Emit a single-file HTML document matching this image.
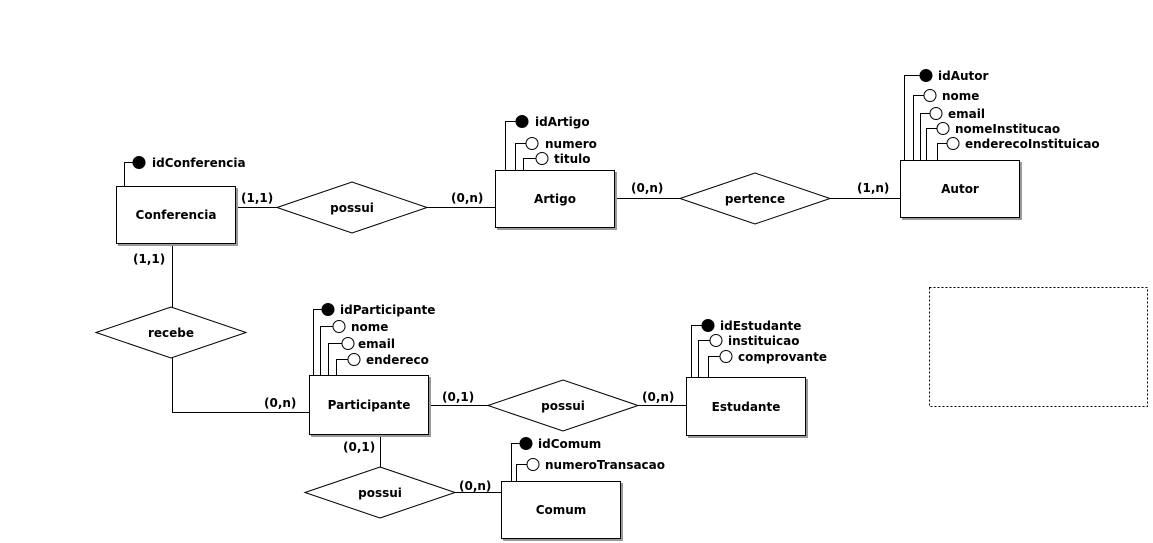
<!DOCTYPE html>
<html><head><meta charset="utf-8"><style>
html,body{margin:0;padding:0;background:#fff;width:1153px;height:543px;overflow:hidden}
text{font-family:"DejaVu Sans","Liberation Sans",sans-serif;font-weight:bold;font-size:12px;fill:#000}
</style></head><body>
<svg width="1153" height="543" xmlns="http://www.w3.org/2000/svg">
<defs>
<g id="x"></g>
</defs>
<g stroke="#000" stroke-width="1" fill="none">
<!-- connectors -->
<path d="M235.5 207.5H277M427 207.5H495"/>
<path d="M614 198.5H680M830 198.5H900"/>
<path d="M172.5 243V307M172.5 357V412.5H309"/>
<path d="M428 405.5H488M638 405.5H686"/>
<path d="M380.5 434V467M455 492.5H501"/>
<!-- attribute lines -->
<path d="M124.5 186V162.5H133"/>
<path d="M505.5 170V121.5H516M515.5 170V143.5H526M523.5 170V158.5H536"/>
<path d="M904.5 160V75.5H920M913.5 160V95.5H924M920.5 160V113.5H930M926.5 160V128.5H937M937.5 160V143.5H947"/>
<path d="M313.5 375V309.5H322M320.5 375V326.5H333M328.5 375V343.5H342M336.5 375V359.5H348"/>
<path d="M691.5 377V325.5H702M698.5 377V340.5H710M708.5 377V356.5H720"/>
<path d="M511.5 481V443.5H520M516.5 481V464.5H527"/>
</g>
<!-- entity shadows -->
<g fill="#999">
<rect x="118" y="188" width="120" height="58"/>
<rect x="497" y="172" width="120" height="58"/>
<rect x="902" y="162" width="120" height="58"/>
<rect x="311" y="377" width="120" height="60"/>
<rect x="688" y="379" width="120" height="59"/>
<rect x="503" y="483" width="120" height="58"/>
</g>
<g fill="#fff" stroke="#000">
<rect x="116.5" y="186.5" width="119" height="57"/>
<rect x="495.5" y="170.5" width="119" height="57"/>
<rect x="900.5" y="160.5" width="119" height="57"/>
<rect x="309.5" y="375.5" width="119" height="59"/>
<rect x="686.5" y="377.5" width="119" height="58"/>
<rect x="501.5" y="481.5" width="119" height="57"/>
<polygon points="277,207.5 352,182 427,207.5 352,233"/>
<polygon points="680,198.5 755,173 830,198.5 755,224"/>
<polygon points="96,332.5 171,307 246,332.5 171,358"/>
<polygon points="488,405.5 563,380 638,405.5 563,431"/>
<polygon points="305,492.5 380,467 455,492.5 380,518"/>
<rect x="929.5" y="287.5" width="218" height="119" stroke-dasharray="2,2"/>
</g>
<!-- attribute circles -->
<g stroke="#000" fill="#fff">
<circle cx="139" cy="162.5" r="6" fill="#000"/>
<circle cx="522" cy="121.5" r="6" fill="#000"/>
<circle cx="532" cy="143.5" r="6"/>
<circle cx="542" cy="158.5" r="6"/>
<circle cx="926" cy="75.5" r="6" fill="#000"/>
<circle cx="930" cy="95.5" r="6"/>
<circle cx="936" cy="113.5" r="6"/>
<circle cx="943" cy="128.5" r="6"/>
<circle cx="953" cy="143.5" r="6"/>
<circle cx="328" cy="309.5" r="6" fill="#000"/>
<circle cx="339" cy="326.5" r="6"/>
<circle cx="348" cy="343.5" r="6"/>
<circle cx="354" cy="359.5" r="6"/>
<circle cx="708" cy="325.5" r="6" fill="#000"/>
<circle cx="716" cy="340.5" r="6"/>
<circle cx="726" cy="356.5" r="6"/>
<circle cx="526" cy="443.5" r="6" fill="#000"/>
<circle cx="533" cy="464.5" r="6"/>
</g>
<!-- texts -->
<text x="152" y="167">idConferencia</text>
<text x="535" y="126">idArtigo</text>
<text x="545" y="148">numero</text>
<text x="554" y="163">titulo</text>
<text x="938" y="80">idAutor</text>
<text x="942" y="100">nome</text>
<text x="948" y="118">email</text>
<text x="955" y="133">nomeInstitucao</text>
<text x="965" y="148">enderecoInstituicao</text>
<text x="340" y="314">idParticipante</text>
<text x="351" y="331">nome</text>
<text x="358" y="348">email</text>
<text x="366" y="364">endereco</text>
<text x="720" y="330">idEstudante</text>
<text x="728" y="345">instituicao</text>
<text x="738" y="361">comprovante</text>
<text x="538" y="448">idComum</text>
<text x="545" y="469">numeroTransacao</text>
<g text-anchor="middle">
<text x="176" y="219">Conferencia</text>
<text x="555" y="203">Artigo</text>
<text x="960" y="193">Autor</text>
<text x="369" y="409">Participante</text>
<text x="746" y="411">Estudante</text>
<text x="561" y="514">Comum</text>
<text x="352" y="212">possui</text>
<text x="755" y="203">pertence</text>
<text x="171" y="337">recebe</text>
<text x="563" y="410">possui</text>
<text x="380" y="497">possui</text>
</g>
<text x="241" y="202">(1,1)</text>
<text x="451" y="202">(0,n)</text>
<text x="133" y="263">(1,1)</text>
<text x="631" y="192">(0,n)</text>
<text x="857" y="192">(1,n)</text>
<text x="264" y="407">(0,n)</text>
<text x="442" y="401">(0,1)</text>
<text x="642" y="401">(0,n)</text>
<text x="343" y="451">(0,1)</text>
<text x="459" y="490">(0,n)</text>
</svg>
</body></html>
